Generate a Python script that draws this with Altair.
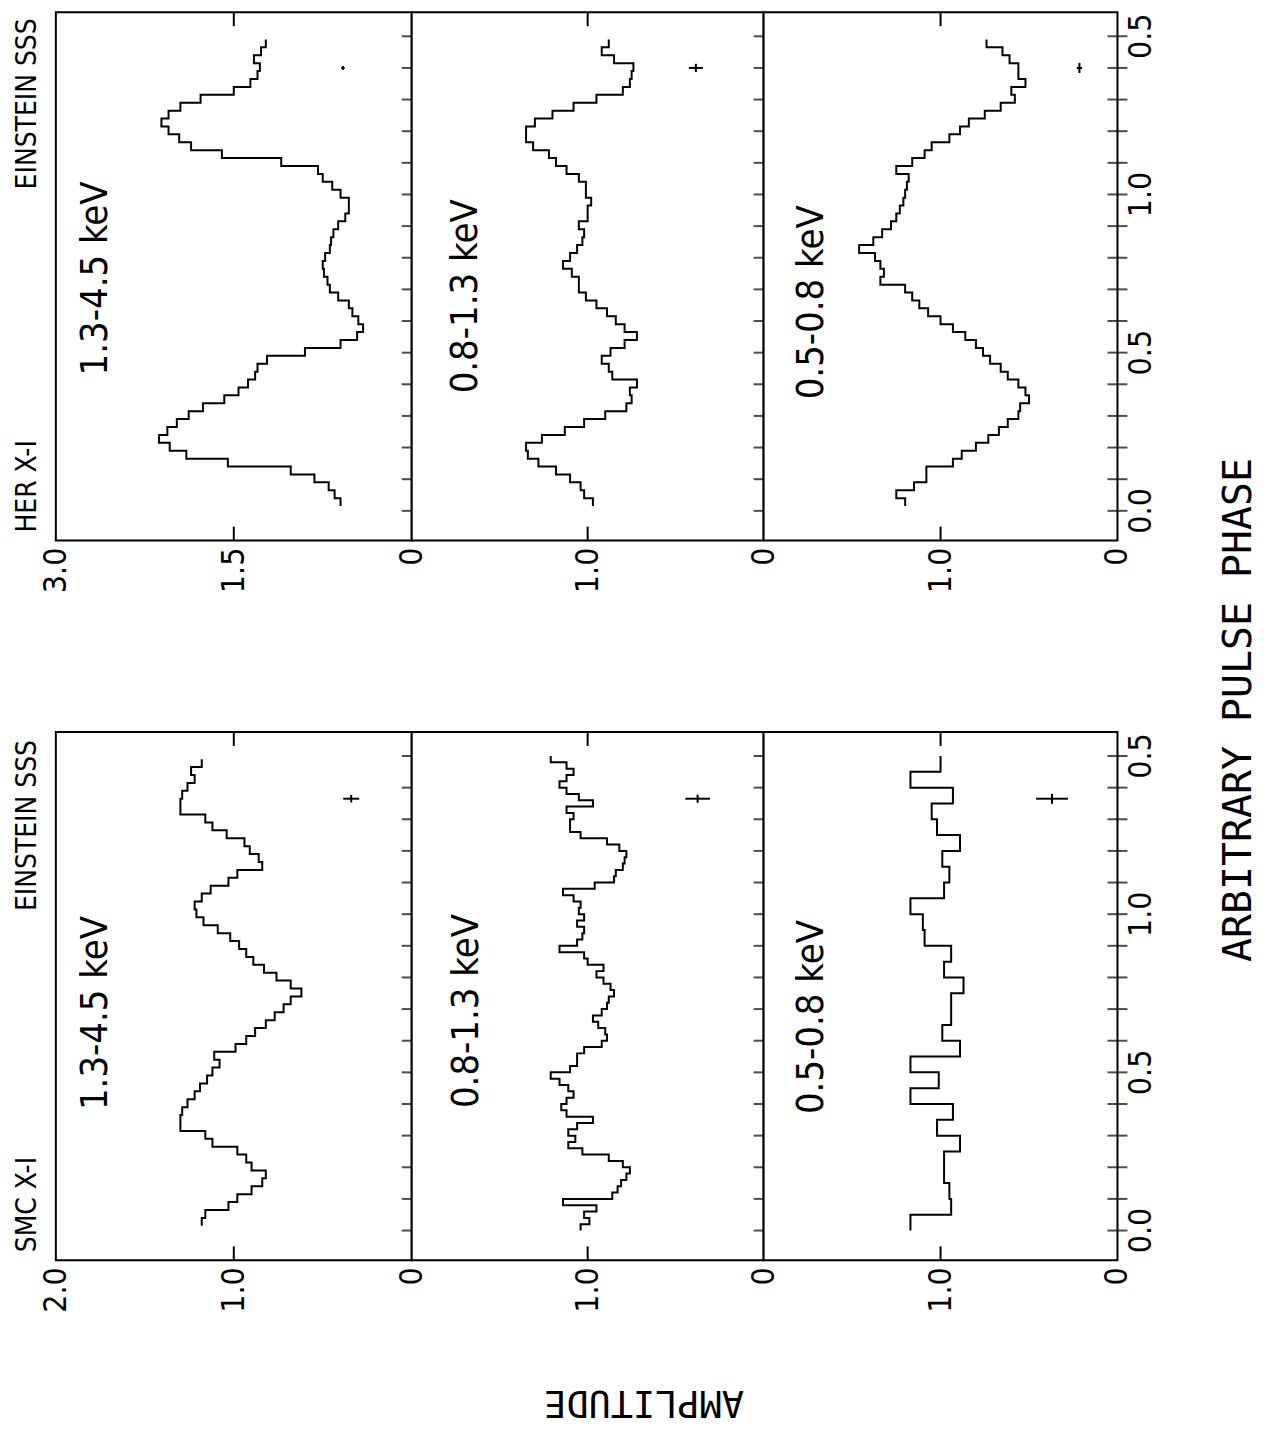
import altair as alt
import pandas as pd

# ---------------- data ----------------
PHASE_TICKS = [0.0, 0.1, 0.2, 0.3, 0.4, 0.5, 0.6, 0.7, 0.8, 0.9, 1.0, 1.1, 1.2, 1.3, 1.4, 1.5]
PHASE_LABEL_VALUES = [0.0, 0.5, 1.0, 1.5]
PHASE_LABEL_TEXT = ["0.0", "0.5", "1.0", "0.5"]

# amplitude tick labels per panel
HER_HARD_AXIS_VALUES = [0.0, 1.5, 3.0]
HER_HARD_AXIS_TEXT = ["0", "1.5", "3.0"]
SMC_HARD_AXIS_VALUES = [0.0, 1.0, 2.0]
SMC_HARD_AXIS_TEXT = ["0", "1.0", "2.0"]
OTHER_AXIS_VALUES = [0.0, 1.0]
OTHER_AXIS_TEXT = ["0", "1.0"]

# HER X-1, bins of 0.025 phase starting at 0.015
HER_START, HER_WIDTH = 0.015, 0.025
HER_HARD = [0.60, 0.65, 0.70, 0.82, 1.02, 1.55, 1.90, 2.04, 2.13, 2.06,
            1.98, 1.88, 1.76, 1.58, 1.46, 1.38, 1.32, 1.30, 1.22, 0.90,
            0.60, 0.46, 0.41, 0.45, 0.50, 0.53, 0.62, 0.69, 0.71, 0.74,
            0.75, 0.73, 0.69, 0.68, 0.66, 0.62, 0.56, 0.53, 0.53, 0.60,
            0.67, 0.75, 0.79, 1.10, 1.60, 1.86, 1.96, 2.05, 2.11, 2.05,
            1.95, 1.78, 1.50, 1.36, 1.30, 1.28, 1.33, 1.27, 1.23]
HER_MID = [0.97, 1.02, 1.04, 1.10, 1.18, 1.28, 1.34, 1.35, 1.26, 1.13,
           1.02, 0.90, 0.78, 0.75, 0.76, 0.72, 0.86, 0.88, 0.92, 0.87,
           0.79, 0.72, 0.79, 0.84, 0.89, 0.95, 1.01, 1.05, 1.05, 1.09,
           1.14, 1.10, 1.06, 1.03, 1.02, 1.05, 1.00, 1.00, 0.98, 1.01,
           1.01, 1.05, 1.12, 1.18, 1.22, 1.31, 1.35, 1.35, 1.30, 1.20,
           1.08, 0.95, 0.80, 0.76, 0.75, 0.74, 0.85, 0.92, 0.88]
HER_SOFT = [1.20, 1.25, 1.15, 1.08, 1.08, 0.93, 0.88, 0.80, 0.73, 0.67,
            0.62, 0.56, 0.55, 0.50, 0.52, 0.56, 0.62, 0.66, 0.72, 0.76,
            0.80, 0.86, 0.93, 1.00, 1.07, 1.12, 1.16, 1.20, 1.34, 1.32,
            1.34, 1.37, 1.46, 1.38, 1.33, 1.28, 1.25, 1.23, 1.21, 1.20,
            1.19, 1.18, 1.25, 1.16, 1.09, 1.05, 0.95, 0.89, 0.84, 0.75,
            0.66, 0.58, 0.60, 0.52, 0.56, 0.56, 0.61, 0.65, 0.74]

# SMC X-1
SMC_HARD_START, SMC_HARD_WIDTH = 0.015, 0.025
SMC_HARD = [1.18, 1.16, 1.03, 0.98, 0.90, 0.84, 0.82, 0.90, 0.93, 0.98,
            1.12, 1.16, 1.30, 1.30, 1.29, 1.26, 1.22, 1.19, 1.15, 1.12,
            1.08, 1.11, 0.99, 0.93, 0.88, 0.82, 0.77, 0.72, 0.68, 0.62,
            0.68, 0.76, 0.83, 0.89, 0.93, 0.97, 1.02, 1.09, 1.17, 1.21,
            1.22, 1.18, 1.13, 1.03, 0.98, 0.84, 0.86, 0.91, 0.94, 1.04,
            1.12, 1.16, 1.30, 1.30, 1.29, 1.26, 1.22, 1.24, 1.18]
SMC_MID_START, SMC_MID_WIDTH = 0.0, 0.02
SMC_MID = [1.04, 0.99, 1.02, 0.95, 1.14, 0.86, 0.83, 0.81, 0.78, 0.76,
           0.80, 0.88, 1.03, 1.11, 1.07, 1.11, 1.06, 0.97, 1.12, 1.15,
           1.12, 1.08, 1.11, 1.16, 1.21, 1.10, 1.06, 1.06, 1.02, 0.92,
           0.89, 0.90, 0.94, 0.97, 0.92, 0.89, 0.88, 0.85, 0.87, 0.91,
           0.95, 0.91, 1.00, 1.02, 1.16, 1.06, 1.03, 1.02, 1.06, 1.02,
           1.05, 1.04, 1.08, 1.14, 0.96, 0.85, 0.84, 0.80, 0.79, 0.78,
           0.82, 0.89, 1.04, 1.10, 1.10, 1.08, 1.12, 0.97, 1.05, 1.12,
           1.16, 1.12, 1.08, 1.12, 1.21]
SMC_SOFT_START, SMC_SOFT_WIDTH = 0.0, 0.05
SMC_SOFT = [1.17, 0.94, 0.95, 0.98, 0.98, 0.89, 1.02, 0.93, 1.17, 1.01,
            1.17, 0.89, 0.99, 0.94, 0.94, 0.87, 0.98, 0.94, 1.09, 1.10,
            1.17, 0.98, 0.95, 0.99, 0.89, 1.02, 1.05, 0.93, 1.17, 1.00]

# error crosses: amplitude, phase, amplitude error, phase half-width
HER_ERR = [(0.58, 1.40, 0.015, 0.006), (0.385, 1.40, 0.04, 0.013), (0.215, 1.40, 0.015, 0.016)]
SMC_ERR = [(0.34, 1.365, 0.045, 0.012), (0.375, 1.365, 0.07, 0.013), (0.37, 1.365, 0.09, 0.016)]

ENERGY = ["1.3-4.5 keV", "0.8-1.3 keV", "0.5-0.8 keV"]

# ---------------- styling ----------------
FONT = "DejaVu Sans Condensed, Liberation Sans Narrow, DejaVu Sans, sans-serif"
MONO = "DejaVu Sans Mono, Liberation Mono, monospace"
H = 530
WIDTHS = [357, 353, 355]
PHASE_DOMAIN = [-0.094, 1.576]
TICK_FONT = 32


def curve_df(values, start, width):
    rows = [{"amp": values[0], "phase": start, "i": 0}]
    for k, v in enumerate(values):
        rows.append({"amp": v, "phase": start + (k + 1) * width, "i": k + 1})
    return pd.DataFrame(rows)


def err_df(e):
    a, p, da, dp = e
    return pd.DataFrame([{"amp": a, "phase": p, "lo": a - da, "hi": a + da,
                          "plo": p - dp, "phi": p + dp}])


def text_layer(t, x, y, align, size, font, ang, baseline="middle"):
    return alt.Chart(pd.DataFrame({"t": [t]})).mark_text(
        angle=ang, fontSize=size, font=font, align=align, baseline=baseline,
        color="black").encode(text="t:N", x=alt.value(x), y=alt.value(y))


def panel(df, amax, amid, width, err, label, label_xy, axis_vals, axis_text,
          phase_axis=False, texts=()):
    xs = alt.Scale(domain=[0, amax], reverse=True, nice=False, zero=False)
    ys = alt.Scale(domain=PHASE_DOMAIN, nice=False, zero=False)

    line = alt.Chart(df).mark_line(interpolate="step-after", color="black",
                                   strokeWidth=2).encode(
        x=alt.X("amp:Q", scale=xs, axis=None),
        y=alt.Y("phase:Q", scale=ys, axis=None),
        order=alt.Order("i:Q"),
    )
    ticks = alt.Chart(pd.DataFrame({"phase": PHASE_TICKS})).mark_tick(
        orient="horizontal", size=20, thickness=2, color="black").encode(
        x=alt.XDatum(0, scale=xs, axis=None),
        y=alt.Y("phase:Q", scale=ys, axis=None),
    )
    one = pd.DataFrame({"a": [0]})
    midtop = alt.Chart(one).mark_rule(color="black", strokeWidth=2).encode(
        x=alt.XDatum(amid, scale=xs, axis=None),
        y=alt.value(0), y2=alt.value(14))
    midbot = alt.Chart(one).mark_rule(color="black", strokeWidth=2).encode(
        x=alt.XDatum(amid, scale=xs, axis=None),
        y=alt.value(H - 14), y2=alt.value(H))
    edf = err_df(err)
    eh = alt.Chart(edf).mark_rule(color="black", strokeWidth=2).encode(
        x=alt.X("lo:Q", scale=xs, axis=None), x2="hi:Q",
        y=alt.Y("phase:Q", scale=ys, axis=None))
    ev = alt.Chart(edf).mark_rule(color="black", strokeWidth=2).encode(
        x=alt.X("amp:Q", scale=xs, axis=None),
        y=alt.Y("plo:Q", scale=ys, axis=None), y2="phi:Q")
    # amplitude tick labels (below the frame)
    amp_lab = alt.Chart(pd.DataFrame({"v": axis_vals, "t": axis_text})).mark_text(
        angle=270, fontSize=TICK_FONT, font=FONT, align="right", baseline="middle",
        color="black").encode(
        x=alt.X("v:Q", scale=xs, axis=None), y=alt.value(H + 7), text="t:N")
    layers = [line, ticks, midtop, midbot, eh, ev, amp_lab,
              text_layer(label, label_xy[0], label_xy[1], "center", 38, FONT, 270)]
    if phase_axis:
        layers.append(alt.Chart(pd.DataFrame({"v": PHASE_LABEL_VALUES,
                                              "t": PHASE_LABEL_TEXT})).mark_text(
            angle=270, fontSize=TICK_FONT, font=FONT, align="center", baseline="top",
            color="black").encode(
            y=alt.Y("v:Q", scale=ys, axis=None), x=alt.value(width + 9), text="t:N"))
    for tt in texts:
        layers.append(text_layer(*tt))
    return alt.layer(*layers).properties(width=width, height=H)


panels = [
    panel(curve_df(HER_HARD, HER_START, HER_WIDTH), 3.0, 1.5, WIDTHS[0], HER_ERR[0],
          ENERGY[0], (40, 267), HER_HARD_AXIS_VALUES, HER_HARD_AXIS_TEXT,
          texts=[("HER X-I", -28, 522, "left", 28, FONT, 270),
                 ("EINSTEIN SSS", -28, 6, "right", 28, FONT, 270)]),
    panel(curve_df(HER_MID, HER_START, HER_WIDTH), 2.0, 1.0, WIDTHS[1], HER_ERR[1],
          ENERGY[1], (54, 285), OTHER_AXIS_VALUES, OTHER_AXIS_TEXT),
    panel(curve_df(HER_SOFT, HER_START, HER_WIDTH), 2.0, 1.0, WIDTHS[2], HER_ERR[2],
          ENERGY[2], (49, 291), OTHER_AXIS_VALUES, OTHER_AXIS_TEXT, phase_axis=True),
    panel(curve_df(SMC_HARD, SMC_HARD_START, SMC_HARD_WIDTH), 2.0, 1.0, WIDTHS[0],
          SMC_ERR[0], ENERGY[0], (40, 282), SMC_HARD_AXIS_VALUES, SMC_HARD_AXIS_TEXT,
          texts=[("SMC X-I", -28, 522, "left", 28, FONT, 270),
                 ("EINSTEIN SSS", -28, 8, "right", 28, FONT, 270)]),
    panel(curve_df(SMC_MID, SMC_MID_START, SMC_MID_WIDTH), 2.0, 1.0, WIDTHS[1],
          SMC_ERR[1], ENERGY[1], (55, 280), OTHER_AXIS_VALUES, OTHER_AXIS_TEXT,
          texts=[("AMPLITUDE", 233, 672, "center", 37, MONO, 180)]),
    panel(curve_df(SMC_SOFT, SMC_SOFT_START, SMC_SOFT_WIDTH), 2.0, 1.0, WIDTHS[2],
          SMC_ERR[2], ENERGY[2], (49, 286), OTHER_AXIS_VALUES, OTHER_AXIS_TEXT,
          phase_axis=True,
          texts=[("ARBITRARY PULSE PHASE", 477, -22, "center", 40, MONO, 270)]),
]

chart = alt.concat(*panels, columns=3, spacing={"row": 192, "column": 0},
                   bounds="flush").properties(
    padding={"left": 5, "top": 0, "right": 5, "bottom": 5},
    background="white",
).configure_view(stroke="black", strokeWidth=2, fill="white")

chart.save("out.html", embed_options={"renderer": "svg", "actions": False})
